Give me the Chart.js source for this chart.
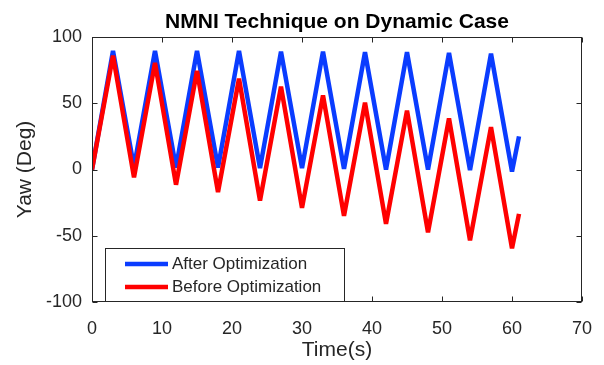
<!DOCTYPE html>
<html><head><meta charset="utf-8">
<script src="https://cdn.jsdelivr.net/npm/chart.js@4"></script>
<style>html,body{margin:0;padding:0;background:#fff;overflow:hidden}canvas{display:block}</style>
</head><body>
<canvas id="c" width="604" height="365"></canvas>
<script>
// ---- data ----
const timeSec   = [0, 3, 6, 9, 12, 15, 18, 21, 24, 27, 30, 33, 36, 39, 42, 45, 48, 51, 54, 57, 60, 61];
const afterOpt  = [0, 89.5, 2, 89.5, 1.5, 89.5, 1.5, 89.5, 1, 89, 1, 89, 0.5, 88.5, 0, 88.5, 0, 88, -0.5, 87.5, -1.5, 25];
const beforeOpt = [0, 86, -6, 80.5, -11.5, 74.5, -17, 68.5, -23.5, 62.5, -29, 56, -35, 50.5, -41, 44.5, -47.5, 38.5, -53.5, 32, -59.5, -33.5];
const xTickValues = [0, 10, 20, 30, 40, 50, 60, 70];
const yTickValues = [-100, -50, 0, 50, 100];
const seriesLabels = ['After Optimization', 'Before Optimization'];
const titleText = 'NMNI Technique on Dynamic Case';
const xLabel = 'Time(s)';
const yLabel = 'Yaw (Deg)';

// ---- style ----
const FONT = '"Liberation Sans", Arial, Helvetica, sans-serif';
const AXIS_COLOR = '#262626';
const BLUE = 'rgb(10,60,255)';
const RED = 'rgb(255,0,0)';

const toPts = ys => timeSec.map((t, i) => ({x: t, y: ys[i]}));

const framePlugin = {
  id: 'frame',
  afterDatasetsDraw(chart) {
    const {ctx, chartArea: a, scales} = chart;
    ctx.save();
    ctx.strokeStyle = AXIS_COLOR;
    ctx.lineWidth = 1;
    const L = Math.round(a.left) + 0.5, R = Math.round(a.right) - 0.5;
    const T = Math.round(a.top) + 0.5, B = Math.round(a.bottom) - 0.5;
    ctx.strokeRect(L, T, R - L, B - T);
    const tl = 5;
    ctx.beginPath();
    scales.x.ticks.forEach(tk => {
      const px = Math.round(scales.x.getPixelForValue(tk.value)) + 0.5;
      ctx.moveTo(px, B); ctx.lineTo(px, B - tl);
      ctx.moveTo(px, T); ctx.lineTo(px, T + tl);
    });
    scales.y.ticks.forEach(tk => {
      const py = Math.round(scales.y.getPixelForValue(tk.value)) + 0.5;
      ctx.moveTo(L, py); ctx.lineTo(L + tl, py);
      ctx.moveTo(R, py); ctx.lineTo(R - tl, py);
    });
    ctx.stroke();
    ctx.restore();
  }
};

const legendPlugin = {
  id: 'boxLegend',
  afterDraw(chart) {
    const {ctx} = chart;
    const bx = 105, by = 248, bw = 239, bh = 53;
    ctx.save();
    ctx.fillStyle = '#fff';
    ctx.fillRect(bx, by, bw, bh);
    ctx.strokeStyle = AXIS_COLOR;
    ctx.lineWidth = 1;
    ctx.strokeRect(bx + 0.5, by + 0.5, bw, bh);
    const rows = [264, 287];
    chart.data.datasets.forEach((ds, i) => {
      const y = rows[i];
      ctx.strokeStyle = ds.borderColor;
      ctx.lineWidth = 4.5;
      ctx.beginPath();
      ctx.moveTo(125, y); ctx.lineTo(168, y);
      ctx.stroke();
      ctx.fillStyle = AXIS_COLOR;
      ctx.font = '17px ' + FONT;
      ctx.textBaseline = 'middle';
      ctx.textAlign = 'left';
      ctx.fillText(ds.label, 172, y + 0.5);
    });
    ctx.restore();
  }
};

const noPad = s => { s.paddingLeft = 0; s.paddingRight = 0; s.paddingTop = 0; s.paddingBottom = 0; };

new Chart(document.getElementById('c').getContext('2d'), {
  type: 'line',
  data: {
    datasets: [
      {label: seriesLabels[0], data: toPts(afterOpt), borderColor: BLUE, order: 1},
      {label: seriesLabels[1], data: toPts(beforeOpt), borderColor: RED, order: 0}
    ]
  },
  options: {
    responsive: false,
    animation: false,
    devicePixelRatio: 1,
    events: [],
    elements: {
      line: {borderWidth: 4.5, tension: 0, borderJoinStyle: 'bevel', fill: false},
      point: {radius: 0, hoverRadius: 0}
    },
    layout: {padding: {left: 0, right: 22, top: 0, bottom: 0}},
    plugins: {
      legend: {display: false},
      tooltip: {enabled: false},
      title: {
        display: true, text: titleText, fullSize: false, color: '#000',
        font: {family: FONT, size: 21, weight: 'bold'},
        padding: {top: 10, bottom: 1.8}
      }
    },
    scales: {
      x: {
        type: 'linear', min: 0, max: 70,
        afterBuildTicks: s => { s.ticks = xTickValues.map(v => ({value: v})); },
        afterFit: s => { s.height = 63; noPad(s); },
        grid: {display: false, drawTicks: false}, border: {display: false},
        ticks: {color: AXIS_COLOR, font: {family: FONT, size: 18}, padding: 16, maxRotation: 0, autoSkip: false},
        title: {display: true, text: xLabel, color: AXIS_COLOR, font: {family: FONT, size: 21}, padding: {top: 0, bottom: 2}}
      },
      y: {
        type: 'linear', min: -100, max: 100,
        afterBuildTicks: s => { s.ticks = yTickValues.map(v => ({value: v})); },
        afterFit: s => { s.width = 92; noPad(s); },
        grid: {display: false, drawTicks: false}, border: {display: false},
        ticks: {color: AXIS_COLOR, font: {family: FONT, size: 18}, padding: 10, autoSkip: false},
        title: {display: true, text: yLabel, color: AXIS_COLOR, font: {family: FONT, size: 21}, padding: {top: 13, bottom: 0}}
      }
    }
  },
  plugins: [framePlugin, legendPlugin]
});
</script>
</body></html>
